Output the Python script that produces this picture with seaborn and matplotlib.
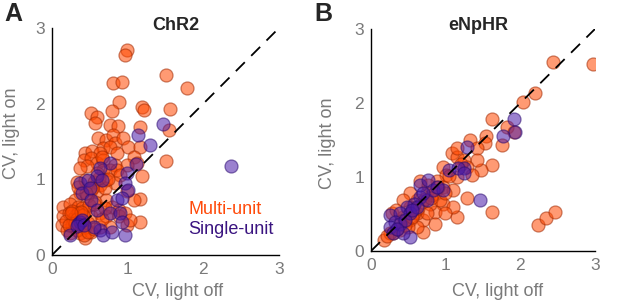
#! /usr/bin/env python3
# -*- coding: utf-8 -*-

import numpy as np
import pandas as pd
import matplotlib
matplotlib.use('Agg')
import matplotlib.pyplot as plt
import seaborn as sns

# ChR2 - multi-unit (CV light off, CV light on)
chr2_multi_off = [0.99, 0.97, 0.81, 0.92, 1.50, 1.78, 0.88, 0.51, 0.60, 0.57, 0.79, 1.19, 1.22, 1.56,
                  0.77, 0.87, 1.16, 1.55, 0.61, 0.72, 0.81, 0.83, 0.94, 0.68, 0.77, 1.01, 1.16, 0.44,
                  0.53, 0.64, 0.86, 0.42, 0.51, 0.59, 0.68, 1.08, 1.12, 0.99, 0.83, 1.50, 1.19, 0.46,
                  0.37, 0.68, 0.77, 0.86, 0.90, 0.33, 0.44, 0.55, 0.64, 0.72, 0.83, 0.51, 0.59, 0.70,
                  0.37, 0.31, 1.16, 1.08, 0.99, 0.72, 0.79, 0.88, 0.15, 0.24, 0.35, 0.44, 0.15, 0.22,
                  0.31, 0.40, 0.51, 0.64, 0.72, 0.88, 0.97, 1.16, 0.13, 0.20, 0.29, 0.37, 0.44, 0.51,
                  0.64, 0.77, 0.99, 1.03, 0.44, 0.48, 0.24, 0.33, 0.28, 0.40, 0.57, 0.46, 0.35, 0.62,
                  0.53, 0.26, 0.42, 0.66, 0.18, 0.27, 0.33, 0.41, 0.49, 0.30, 0.38, 0.22, 0.47, 0.56,
                  0.60, 0.66, 0.74, 0.45, 0.35, 0.55, 0.25, 0.70]
chr2_multi_on = [2.71, 2.64, 2.27, 2.28, 2.38, 2.21, 2.02, 1.88, 1.83, 1.75, 1.90, 1.96, 1.91, 1.93,
                 1.72, 1.71, 1.69, 1.65, 1.54, 1.52, 1.59, 1.48, 1.54, 1.41, 1.43, 1.43, 1.43, 1.35,
                 1.37, 1.35, 1.35, 1.26, 1.28, 1.21, 1.26, 1.30, 1.21, 1.19, 1.19, 1.24, 1.04, 1.17,
                 1.15, 1.12, 1.12, 1.12, 1.06, 0.97, 0.99, 0.97, 0.93, 0.99, 0.95, 0.86, 0.84, 0.88,
                 0.82, 0.73, 0.74, 0.73, 0.84, 0.73, 0.64, 0.60, 0.64, 0.68, 0.64, 0.60, 0.51, 0.55,
                 0.51, 0.44, 0.51, 0.55, 0.51, 0.51, 0.55, 0.44, 0.40, 0.33, 0.37, 0.29, 0.22, 0.31,
                 0.37, 0.37, 0.40, 0.46, 0.37, 0.42, 0.29, 0.33, 0.48, 0.62, 0.70, 0.78, 0.55, 1.02,
                 0.88, 0.40, 0.27, 0.47, 0.45, 0.58, 0.48, 0.53, 0.66, 0.42, 0.57, 0.40, 0.30, 0.35,
                 1.08, 1.30, 1.00, 0.82, 0.90, 0.68, 0.55, 0.62]

# ChR2 - single-unit
chr2_single_off = [1.47, 1.14, 1.30, 1.11, 0.77, 0.64, 0.59, 0.99, 0.37, 0.47, 0.66, 0.97, 1.01, 0.40,
                   0.51, 0.86, 0.92, 0.59, 0.77, 0.90, 0.37, 0.35, 0.40, 0.24, 0.64, 0.68, 0.79, 0.97,
                   2.37, 0.55, 0.92, 0.33, 0.42, 0.50]
chr2_single_on = [1.73, 1.59, 1.46, 1.20, 1.21, 1.15, 1.04, 1.08, 0.95, 0.99, 0.99, 0.95, 0.86, 0.82,
                  0.73, 0.73, 0.75, 0.60, 0.56, 0.55, 0.44, 0.41, 0.46, 0.26, 0.33, 0.26, 0.31, 0.26,
                  1.18, 0.37, 0.44, 0.38, 0.40, 0.88]

# eNpHR - multi-unit
enphr_multi_off = [2.44, 2.97, 2.19, 2.04, 1.62, 1.82, 1.92, 1.75, 1.54, 1.53, 1.33, 1.42, 1.62, 1.48,
                   1.42, 1.08, 1.15, 1.24, 1.15, 1.28, 1.35, 1.28, 1.62, 1.15, 2.24, 2.35, 2.46, 0.97,
                   1.01, 1.15, 0.88, 0.97, 1.10, 0.97, 1.10, 0.86, 0.99, 0.86, 0.70, 0.70, 0.79, 0.75,
                   0.61, 0.52, 0.61, 0.52, 0.43, 0.39, 0.30, 0.17, 0.25, 0.52, 0.43, 0.66, 0.77, 0.86,
                   0.28, 0.34, 0.92, 0.99, 0.61, 0.50, 0.75, 0.40, 0.56, 0.68, 0.82, 1.05, 0.22, 0.35,
                   0.46, 0.58, 0.63, 0.72, 0.80, 0.90, 1.20, 0.45, 0.55]
enphr_multi_on = [2.55, 2.53, 2.14, 2.01, 1.79, 1.68, 1.61, 1.43, 1.55, 1.46, 1.50, 1.39, 1.16, 1.10,
                  1.23, 1.32, 1.27, 1.23, 1.39, 1.13, 1.03, 0.72, 0.53, 0.46, 0.35, 0.44, 0.53, 1.14,
                  1.03, 1.00, 0.94, 0.87, 0.82, 0.64, 0.60, 0.53, 0.51, 0.37, 0.26, 0.42, 0.64, 0.78,
                  0.69, 0.60, 0.51, 0.42, 0.46, 0.28, 0.24, 0.15, 0.24, 0.78, 0.69, 0.94, 0.89, 0.78,
                  0.51, 0.55, 0.69, 0.78, 0.33, 0.33, 0.51, 0.40, 0.56, 0.66, 0.76, 1.02, 0.20, 0.30,
                  0.40, 0.52, 0.58, 0.70, 0.72, 0.86, 1.18, 0.35, 0.46]

# eNpHR - single-unit
enphr_single_off = [1.91, 1.93, 1.77, 1.28, 1.24, 1.04, 0.66, 0.77, 1.46, 0.25, 0.52, 0.66, 0.75, 0.83,
                    0.57, 0.48, 0.39, 0.52, 0.32, 0.25, 0.30, 0.39, 0.61, 0.70, 0.97, 1.17, 1.24, 0.88,
                    0.43, 0.45, 0.55, 0.35]
enphr_single_on = [1.79, 1.61, 1.55, 1.41, 1.12, 1.09, 0.89, 0.96, 0.69, 0.48, 0.19, 0.73, 0.69, 0.82,
                   0.64, 0.60, 0.51, 0.51, 0.39, 0.33, 0.24, 0.37, 0.60, 0.78, 0.82, 1.12, 1.05, 0.87,
                   0.24, 0.42, 0.55, 0.30]

ORANGE = '#FF4800'
PURPLE = '#4a1aa8'
TICK_GREY = '#7a7a7a'


def build_df(multi_off, multi_on, single_off, single_on):
    '''Stack both unit types into one long dataframe'''
    df_m = pd.DataFrame({'off': multi_off, 'on': multi_on, 'unit': 'Multi-unit'})
    df_s = pd.DataFrame({'off': single_off, 'on': single_on, 'unit': 'Single-unit'})
    return pd.concat([df_m, df_s], ignore_index=True)


def panel(ax, df):
    '''Scatter of CV light on vs off with unity line'''
    sns.scatterplot(x='off', y='on', data=df[df['unit'] == 'Multi-unit'], ax=ax,
                    color=ORANGE, edgecolor='#A02800', linewidth=0.9, s=88, alpha=0.55,
                    legend=False, zorder=2)
    sns.scatterplot(x='off', y='on', data=df[df['unit'] == 'Single-unit'], ax=ax,
                    color=PURPLE, edgecolor='#2a0a70', linewidth=0.9, s=88, alpha=0.55,
                    legend=False, zorder=3)
    ax.plot([0, 3], [0, 3], color='black', lw=1.3, dashes=(7, 5), zorder=4)
    ax.set_xlim(0, 3)
    ax.set_ylim(0, 3)
    ax.set_xticks([0, 1, 2, 3])
    ax.set_yticks([0, 1, 2, 3])
    for side in ['top', 'right']:
        ax.spines[side].set_visible(False)
    for side in ['left', 'bottom']:
        ax.spines[side].set_linewidth(1.0)
        ax.spines[side].set_color('black')
    ax.tick_params(direction='in', length=3, width=1, labelsize=12.5,
                   labelcolor=TICK_GREY, pad=5)
    ax.set_xlabel('')
    ax.set_ylabel('')


sns.set_style('white')
plt.rcParams['font.family'] = ['Liberation Sans', 'DejaVu Sans']

fig = plt.figure(figsize=(6.17, 3.06), dpi=100)
ax_a = fig.add_axes([0.0843, 0.1667, 0.3679, 0.7418])
ax_b = fig.add_axes([0.6013, 0.1797, 0.3630, 0.7255])

panel(ax_a, build_df(chr2_multi_off, chr2_multi_on, chr2_single_off, chr2_single_on))
panel(ax_b, build_df(enphr_multi_off, enphr_multi_on, enphr_single_off, enphr_single_on))

# titles, panel letters and axis labels
fig.text(176 / 617, 1 - 26 / 306, 'ChR2', ha='center', va='center', fontsize=13, fontweight='bold')
fig.text(478 / 617, 1 - 26 / 306, 'eNpHR', ha='center', va='center', fontsize=13, fontweight='bold')
fig.text(4 / 617, 1 - 14 / 306, 'A', ha='left', va='center', fontsize=18, fontweight='bold')
fig.text(314 / 617, 1 - 14 / 306, 'B', ha='left', va='center', fontsize=18, fontweight='bold')

fig.text(178 / 617, 1 - 292 / 306, 'CV, light off', ha='center', va='center', fontsize=13, color=TICK_GREY)
fig.text(498 / 617, 1 - 292 / 306, 'CV, light off', ha='center', va='center', fontsize=13, color=TICK_GREY)
fig.text(12 / 617, 1 - 133 / 306, 'CV, light on', ha='center', va='center', fontsize=13,
         color=TICK_GREY, rotation=90)
fig.text(327 / 617, 1 - 143 / 306, 'CV, light on', ha='center', va='center', fontsize=13,
         color=TICK_GREY, rotation=90)

# legend as coloured text
fig.text(188 / 617, 1 - 210 / 306, 'Multi-unit', ha='left', va='center', fontsize=13, color='#FF4A0A')
fig.text(188 / 617, 1 - 230 / 306, 'Single-unit', ha='left', va='center', fontsize=13, color='#3a1480')

fig.savefig('out.png', dpi=100)
